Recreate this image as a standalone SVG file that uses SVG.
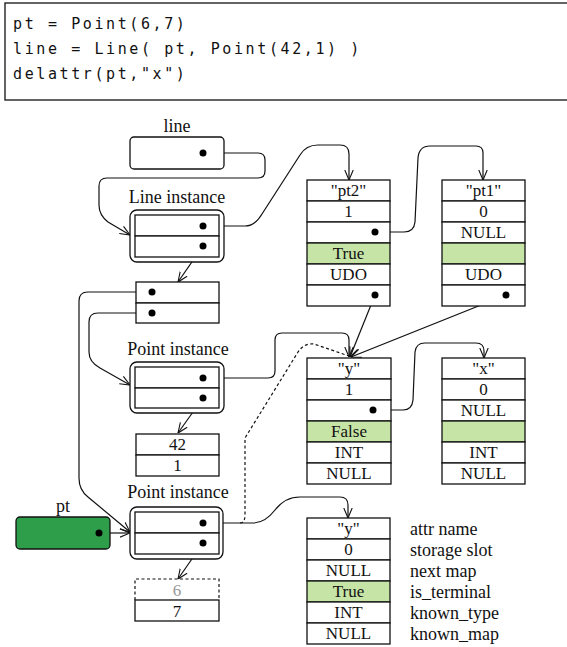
<svg xmlns="http://www.w3.org/2000/svg" width="567" height="647" viewBox="0 0 567 647">
<style>
.code{font-family:"DejaVu Sans Mono","Liberation Mono",monospace;font-size:15px;letter-spacing:2.6px;fill:#111}
.lbl{font-family:"Liberation Serif","Times New Roman",serif;font-size:18px;fill:#111;text-anchor:middle}
.side{font-family:"Liberation Serif","Times New Roman",serif;font-size:18px;fill:#111}
.cell{font-family:"Liberation Serif","Times New Roman",serif;font-size:17px;fill:#111;text-anchor:middle}
.box{fill:#fff;stroke:#111;stroke-width:1.3}
.grn{fill:#c6e4a6;stroke:#111;stroke-width:1.3}
.dot{fill:#000}
.con{fill:none;stroke:#111;stroke-width:1.2}
.arr{marker-end:url(#ah)}
</style>
<defs>
<marker id="ah" viewBox="0 0 10 10" refX="10" refY="5" markerWidth="10" markerHeight="10" markerUnits="userSpaceOnUse" orient="auto">
<path d="M0,0.8 L10,5 L0,9.2" fill="none" stroke="#111" stroke-width="1.1"/>
</marker>
</defs>
<rect width="567" height="647" fill="#fff"/>
<g id="code">
<rect x="5" y="3" width="575" height="97" fill="#fff" stroke="#222" stroke-width="1.4"/>
<text class="code" x="13" y="29">pt = Point(6,7)</text>
<text class="code" x="13" y="54">line = Line( pt, Point(42,1) )</text>
<text class="code" x="13" y="79">delattr(pt,"x")</text>
</g>
<g id="connectors">
<path class="con arr" d="M203,153 H258 Q265,153 265,160 V171 Q265,178 258,178 H107 Q99,178 99,186 V205 Q99,215 108,222 L130,235"/>
<path class="con arr" d="M203,226 H245 Q255,226 262,214 L300,155 Q306,145 318,145 H340 Q349,145 349,154 V180"/>
<path class="con arr" d="M203,246 L178,282"/>
<path class="con arr" d="M152,292 H88 Q79,292 79,301 V478 Q79,490 88,497 L130,532"/>
<path class="con arr" d="M152,313 H98 Q89,313 89,322 V352 Q89,362 100,368 L130,385"/>
<path class="con arr" d="M203,378 H268 Q275,378 275,371 V340 Q275,333 282,333 H342 Q349,333 349,340 V357"/>
<path class="con arr" d="M203,398 L178,433"/>
<path class="con arr" d="M375,232 H404 Q414,232 415,222 L418,158 Q419,146 430,146 H476 Q483,146 483,153 V180"/>
<path class="con arr" d="M375,295 L350,357"/>
<path class="con arr" d="M506,295 L351,357"/>
<path class="con arr" d="M373,410 H403 Q412,410 413,400 L415,352 Q416,343 425,343 H476 Q484,343 484,351 V358"/>
<path class="con arr" d="M203,523 H253 Q265,523 275,510 Q285,497 300,497 H340 Q348,497 348,505 V518"/>
<path class="con" stroke-dasharray="3,2.5" d="M240,523 Q245,523 245,515 V438 L298,352 Q304,343 314,344 L349,356"/>
<path class="con arr" d="M99,533 H130"/>
<path class="con arr" d="M203,543 L178,579"/>
</g>
<g id="line">
<text class="lbl" x="177" y="132">line</text>
<rect class="box" x="130" y="137" width="94" height="32" rx="4"/>
<circle class="dot" cx="203" cy="153" r="3.5"/>
</g>
<g id="line-instance">
<text class="lbl" x="177" y="203">Line instance</text>
<rect class="box" x="130" y="210" width="94" height="52" rx="7"/>
<rect class="box" x="135" y="215" width="84" height="21"/>
<rect class="box" x="135" y="236" width="84" height="21"/>
<circle class="dot" cx="203" cy="226" r="3.5"/>
<circle class="dot" cx="203" cy="246" r="3.5"/>
</g>
<g id="slots">
<rect class="box" x="136" y="282" width="83" height="21"/>
<rect class="box" x="136" y="303" width="83" height="20"/>
<circle class="dot" cx="152" cy="292" r="3.5"/>
<circle class="dot" cx="152" cy="313" r="3.5"/>
</g>
<g id="point-instance-1">
<text class="lbl" x="178" y="355">Point instance</text>
<rect class="box" x="130" y="362" width="94" height="51" rx="7"/>
<rect class="box" x="135" y="367" width="84" height="21"/>
<rect class="box" x="135" y="388" width="84" height="20"/>
<circle class="dot" cx="203" cy="378" r="3.5"/>
<circle class="dot" cx="203" cy="398" r="3.5"/>
</g>
<g id="values-42-1">
<rect class="box" x="136" y="434" width="83" height="21"/>
<rect class="box" x="136" y="455" width="83" height="21"/>
<text class="cell" x="177.5" y="450">42</text>
<text class="cell" x="177.5" y="471">1</text>
</g>
<g id="point-instance-2">
<text class="lbl" x="178" y="498">Point instance</text>
<rect class="box" x="130" y="507" width="93" height="52" rx="7"/>
<rect class="box" x="135" y="512" width="84" height="21"/>
<rect class="box" x="135" y="533" width="84" height="21"/>
<circle class="dot" cx="203" cy="523" r="3.5"/>
<circle class="dot" cx="203" cy="543" r="3.5"/>
</g>
<g id="values-6-7">
<path d="M135,600 V579 H219 V600" fill="none" stroke="#111" stroke-width="1.2" stroke-dasharray="3,2.5"/>
<rect class="box" x="135" y="600" width="84" height="21"/>
<text class="cell" x="177" y="596" fill="#999" style="fill:#999">6</text>
<text class="cell" x="177" y="617">7</text>
</g>
<g id="pt">
<text class="lbl" x="63" y="512">pt</text>
<rect x="16" y="517" width="94" height="32" rx="4" fill="#2f9e4b" stroke="#111" stroke-width="1.3"/>
<circle class="dot" cx="99" cy="533" r="3.5"/>
</g>
<g id="map-pt2">
<rect class="box" x="307" y="180" width="83" height="21"/>
<rect class="box" x="307" y="201" width="83" height="21"/>
<rect class="box" x="307" y="222" width="83" height="21"/>
<rect class="grn" x="307" y="243" width="83" height="21"/>
<rect class="box" x="307" y="264" width="83" height="21"/>
<rect class="box" x="307" y="285" width="83" height="21"/>
<text class="cell" x="348.5" y="196">"pt2"</text>
<text class="cell" x="348.5" y="217">1</text>
<text class="cell" x="348.5" y="259">True</text>
<text class="cell" x="348.5" y="280">UDO</text>
<circle class="dot" cx="375" cy="232" r="3.5"/>
<circle class="dot" cx="375" cy="295" r="3.5"/>
</g>
<g id="map-pt1">
<rect class="box" x="442" y="180" width="83" height="21"/>
<rect class="box" x="442" y="201" width="83" height="21"/>
<rect class="box" x="442" y="222" width="83" height="21"/>
<rect class="grn" x="442" y="243" width="83" height="21"/>
<rect class="box" x="442" y="264" width="83" height="21"/>
<rect class="box" x="442" y="285" width="83" height="21"/>
<text class="cell" x="483.5" y="196">"pt1"</text>
<text class="cell" x="483.5" y="217">0</text>
<text class="cell" x="483.5" y="238">NULL</text>
<text class="cell" x="483.5" y="280">UDO</text>
<circle class="dot" cx="506" cy="295" r="3.5"/>
</g>
<g id="map-y1">
<rect class="box" x="307" y="358" width="84" height="21"/>
<rect class="box" x="307" y="379" width="84" height="21"/>
<rect class="box" x="307" y="400" width="84" height="21"/>
<rect class="grn" x="307" y="421" width="84" height="21"/>
<rect class="box" x="307" y="442" width="84" height="21"/>
<rect class="box" x="307" y="463" width="84" height="21"/>
<text class="cell" x="349" y="374">"y"</text>
<text class="cell" x="349" y="395">1</text>
<text class="cell" x="349" y="437">False</text>
<text class="cell" x="349" y="458">INT</text>
<text class="cell" x="349" y="479">NULL</text>
<circle class="dot" cx="373" cy="410" r="3.5"/>
</g>
<g id="map-x">
<rect class="box" x="442" y="358" width="83" height="21"/>
<rect class="box" x="442" y="379" width="83" height="21"/>
<rect class="box" x="442" y="400" width="83" height="21"/>
<rect class="grn" x="442" y="421" width="83" height="21"/>
<rect class="box" x="442" y="442" width="83" height="21"/>
<rect class="box" x="442" y="463" width="83" height="21"/>
<text class="cell" x="483.5" y="374">"x"</text>
<text class="cell" x="483.5" y="395">0</text>
<text class="cell" x="483.5" y="416">NULL</text>
<text class="cell" x="483.5" y="458">INT</text>
<text class="cell" x="483.5" y="479">NULL</text>
</g>
<g id="map-y2">
<rect class="box" x="307" y="518" width="83" height="21"/>
<rect class="box" x="307" y="539" width="83" height="21"/>
<rect class="box" x="307" y="560" width="83" height="21"/>
<rect class="grn" x="307" y="581" width="83" height="21"/>
<rect class="box" x="307" y="602" width="83" height="21"/>
<rect class="box" x="307" y="623" width="83" height="21"/>
<text class="cell" x="348.5" y="534">"y"</text>
<text class="cell" x="348.5" y="555">0</text>
<text class="cell" x="348.5" y="576">NULL</text>
<text class="cell" x="348.5" y="597">True</text>
<text class="cell" x="348.5" y="618">INT</text>
<text class="cell" x="348.5" y="639">NULL</text>
</g>
<g id="legend">
<text class="side" x="410" y="535">attr name</text>
<text class="side" x="410" y="556">storage slot</text>
<text class="side" x="410" y="577">next map</text>
<text class="side" x="410" y="598">is_terminal</text>
<text class="side" x="410" y="619">known_type</text>
<text class="side" x="410" y="640">known_map</text>
</g>
</svg>
